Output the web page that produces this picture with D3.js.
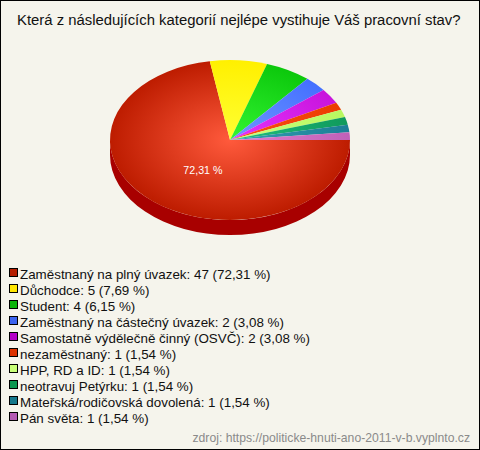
<!DOCTYPE html>
<html><head><meta charset="utf-8">
<script src="https://cdnjs.cloudflare.com/ajax/libs/d3/7.8.5/d3.min.js"></script>
<style>html,body{margin:0;padding:0;background:#fff}svg{display:block}text{font-family:"Liberation Sans",Arial,sans-serif}</style>
</head><body><svg id="c" width="480" height="450"></svg>
<script>
const categories=["Zaměstnaný na plný úvazek","Důchodce","Student","Zaměstnaný na částečný úvazek","Samostatně výdělečně činný (OSVČ)","nezaměstnaný","HPP, RD a ID","neotravuj Petýrku","Mateřská/rodičovská dovolená","Pán světa"];
const counts=[47,5,4,2,2,1,1,1,1,1];
const percents=["72,31","7,69","6,15","3,08","3,08","1,54","1,54","1,54","1,54","1,54"];
const innerColors=["#ff5a3c","#ffff33","#33f533","#7096ff","#e633ff","#ff5014","#ccff80","#1fc080","#33a0b4","#e080d0"];
const outerColors=["#bd1c00","#fff000","#0cc80c","#4470ff","#c814dc","#eb3c00","#b8f860","#109a5c","#1c7e96","#c060b8"];
const legendColors=["#b41e00","#ffe600","#0ab40a","#3c64f0","#b400c8","#dc3200","#c8ff78","#0a9650","#14788c","#b45ab4"];
const wallColor="#a80000";
const title="Která z následujících kategorií nejlépe vystihuje Váš pracovní stav?";
const source="zdroj: https://politicke-hnuti-ano-2011-v-b.vyplnto.cz";

const W=480,H=450,cx=230,cy=140,R=120,ry=80,depth=15,k=ry/R;
const svg=d3.select("#c");
svg.append("rect").attr("x",.5).attr("y",.5).attr("width",W-1).attr("height",H-1).attr("fill","#f5f4ec").attr("stroke","#000").attr("stroke-width",1);
svg.append("text").attr("x",17).attr("y",25).attr("font-size",14.87).attr("fill","#111").text(title);

const pie=d3.pie().sort(null).startAngle(Math.PI/2).endAngle(Math.PI*2.5);
const arcs=pie(counts);
const arc=d3.arc().innerRadius(0).outerRadius(R);
const defs=svg.append("defs");
innerColors.forEach((c,i)=>{
  const g=defs.append("radialGradient").attr("id","g"+i).attr("gradientUnits","userSpaceOnUse").attr("cx",0).attr("cy",0).attr("r",R);
  g.append("stop").attr("offset",0).attr("stop-color",c);
  g.append("stop").attr("offset",1).attr("stop-color",outerColors[i]);
});
const gp=svg.append("g").attr("transform",`translate(${cx},${cy}) scale(1,${k})`);
arcs.forEach(d=>{
  const a0=d.startAngle-Math.PI/2,a1=Math.min(d.endAngle-Math.PI/2,Math.PI);
  if(a0>=Math.PI) return;
  const p=d3.path();
  p.arc(0,0,R,a0,a1);
  p.arc(0,depth/k,R,a1,a0,true);
  p.closePath();
  gp.append("path").attr("d",p.toString()).attr("fill",wallColor);
});
gp.selectAll("path.s").data(arcs).join("path").attr("class","s").attr("d",arc).attr("fill",(d,i)=>`url(#g${i})`);

const mid=(arcs[0].startAngle+arcs[0].endAngle)/2;
svg.append("text").attr("x",cx+Math.sin(mid)*R*.35).attr("y",cy-Math.cos(mid)*ry*.5+3).attr("text-anchor","middle").attr("font-size",10.67).attr("fill","#fff").text(percents[0]+" %");

const y=d3.scalePoint().domain(d3.range(categories.length)).range([274,418]);
const lg=svg.append("g").selectAll("g").data(categories).join("g").attr("transform",(d,i)=>`translate(0,${y(i)})`);
lg.append("rect").attr("x",9.5).attr("y",-5.5).attr("width",8).attr("height",8).attr("stroke","#000").attr("fill",(d,i)=>legendColors[i]);
lg.append("text").attr("x",20).attr("y",4.5).attr("font-size",13.38).attr("fill","#111").text((d,i)=>`${d}: ${counts[i]} (${percents[i]} %)`);
svg.append("text").attr("x",470).attr("y",442).attr("text-anchor","end").attr("font-size",12.2).attr("fill","#8a8a8a").text(source);
</script></body></html>
